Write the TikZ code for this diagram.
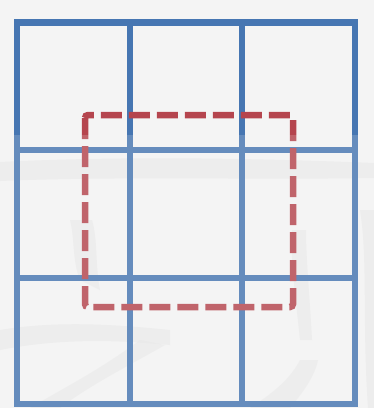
\documentclass[tikz,border=0pt]{standalone}
\begin{document}
\begin{tikzpicture}[x=1pt,y=-1pt,
  gridline/.style={draw=gridblue,line width=6.5pt,line cap=rect},
  dashbox/.style={draw=boxred,line width=6.5pt,dash pattern=on 21pt off 7pt,rounded corners=3pt},
  wash/.style={fill=bgcol,opacity=0.18},
  blot/.style={fill=black!10,opacity=0.5}]
\definecolor{gridblue}{HTML}{4676B2}
\definecolor{boxred}{HTML}{B5454E}
\definecolor{bgcol}{HTML}{F4F4F4}
\useasboundingbox (0,0) rectangle (374,408);
\fill[bgcol] (0,0) rectangle (374,408);
% faint background strokes
\fill[blot] (0,162) .. controls (120,156) and (250,158) .. (374,163) -- (374,178) .. controls (250,180) and (120,176) .. (0,181) -- cycle;
\fill[blot] (70,220) .. controls (75,240) and (72,260) .. (80,280) -- (100,290) .. controls (95,265) and (98,240) .. (92,220) -- cycle;
\fill[blot] (0,330) .. controls (60,320) and (120,325) .. (170,330) -- (170,345) .. controls (120,340) and (60,338) .. (0,350) -- cycle;
\fill[blot] (140,340) .. controls (100,370) and (60,390) .. (30,408) -- (60,408) .. controls (90,385) and (130,365) .. (165,345) -- cycle;
\fill[blot] (360,210) .. controls (368,260) and (362,320) .. (368,408) -- (374,408) -- (374,210) -- cycle;
\fill[blot] (292,230) .. controls (290,260) and (296,300) .. (300,340) -- (312,340) .. controls (310,300) and (306,260) .. (306,230) -- cycle;
\fill[blot] (300,360) .. controls (290,380) and (270,395) .. (250,408) -- (290,408) .. controls (305,390) and (315,375) .. (318,360) -- cycle;
% grid
\draw[gridline] (17,22.5) rectangle (355,404);
\draw[gridline] (130,22.5) -- (130,404);
\draw[gridline] (242,22.5) -- (242,404);
\draw[gridline] (17,150) -- (355,150);
\draw[gridline] (17,278) -- (355,278);
% dashed box
\draw[dashbox] (85,115) rectangle (293,307);
% wash over lower part
\fill[wash] (0,135) rectangle (374,408);
\end{tikzpicture}
\end{document}
